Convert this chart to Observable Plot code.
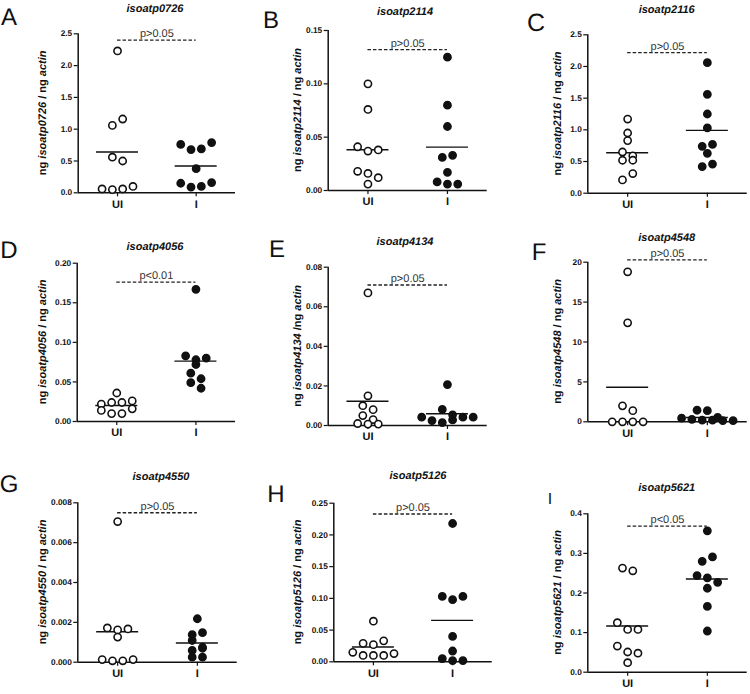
<!DOCTYPE html>
<html><head><meta charset="utf-8">
<script src="https://cdn.jsdelivr.net/npm/d3@7"></script>
<script src="https://cdn.jsdelivr.net/npm/@observablehq/plot@0.6"></script>
<style>
body{margin:0;background:#fff;}
#fig{position:relative;width:750px;height:694px;font-family:"Liberation Sans",Arial,sans-serif;overflow:hidden;}
.panel{position:absolute;}
.panel svg{overflow:visible;background:transparent;max-width:none;text-rendering:geometricPrecision;}
</style></head>
<body><div id="fig"></div>
<script>
// ---------- data ----------
const groups = ["UI", "I"];
const letters = ["A","B","C","D","E","F","G","H","I"];
const genes = ["isoatp0726","isoatp2114","isoatp2116","isoatp4056","isoatp4134","isoatp4548","isoatp4550","isoatp5126","isoatp5621"];
const labelSeps = [" / ng "," / ng "," / ng "," / ng "," /ng "," / ng "," / ng "," / ng "," / ng "];
const pLabels = ["p>0.05","p>0.05","p>0.05","p<0.01","p>0.05","p>0.05","p>0.05","p>0.05","p<0.05"];
const sigLevels = [2.4, 0.132, 2.22, 0.176, 0.071, 20.3, 0.0075, 0.233, 0.369];
const yMaxes = [2.5, 0.15, 2.5, 0.20, 0.08, 20, 0.008, 0.25, 0.4];
const yTickSteps = [0.5, 0.05, 0.5, 0.05, 0.02, 5, 0.002, 0.05, 0.1];
const yTickDecimals = [1, 2, 1, 2, 2, 0, 3, 2, 1];

const a_UI = [2.23, 1.06, 1.16, 0.56, 0.50, 0.06, 0.05, 0.06, 0.10];
const a_I  = [0.76, 0.68, 0.69, 0.79, 0.38, 0.15, 0.09, 0.10, 0.16];
const b_UI = [0.100, 0.076, 0.041, 0.037, 0.038, 0.018, 0.016, 0.012, 0.006];
const b_I  = [0.125, 0.080, 0.060, 0.031, 0.033, 0.017, 0.008, 0.006, 0.006];
const c_UI = [1.17, 0.83, 0.95, 0.65, 0.52, 0.52, 0.59, 0.21, 0.31];
const c_I  = [2.06, 1.56, 1.25, 1.03, 0.74, 0.77, 0.63, 0.42, 0.46];
const d_UI = [0.036, 0.022, 0.024, 0.024, 0.026, 0.014, 0.010, 0.010, 0.016];
const d_I  = [0.167, 0.083, 0.078, 0.080, 0.072, 0.061, 0.054, 0.049, 0.042];
const e_UI = [0.067, 0.015, 0.010, 0.008, 0.005, 0.001, 0.0007, 0.0007, 0.003];
const e_I  = [0.0207, 0.0081, 0.0042, 0.0025, 0.0054, 0.0015, 0.0028, 0.0042, 0.0042];
const f_UI = [18.8, 12.4, 2.0, 1.4, 0, 0, 0, 0];
const f_I  = [1.45, 1.4, 0.55, 0.45, 0.3, 0.2, 0.2, 0.15, 0.15];
const g_UI = [0.00706, 0.00172, 0.00162, 0.00167, 0.00126, 0.00013, 0.00007, 0.00007, 0.00013];
const g_I  = [0.00218, 0.00138, 0.00148, 0.00109, 0.00075, 0.00059, 0.00070, 0.00025, 0.00025];
const h_UI = [0.064, 0.029, 0.027, 0.033, 0.015, 0.010, 0.010, 0.010, 0.013];
const h_I  = [0.218, 0.103, 0.098, 0.103, 0.040, 0.017, 0.005, 0.002, 0.002];
const i_UI = [0.263, 0.256, 0.125, 0.108, 0.108, 0.066, 0.051, 0.048, 0.024];
const i_I  = [0.357, 0.280, 0.291, 0.244, 0.238, 0.227, 0.212, 0.166, 0.104];

const seriesUI = [a_UI, b_UI, c_UI, d_UI, e_UI, f_UI, g_UI, h_UI, i_UI];
const seriesI  = [a_I, b_I, c_I, d_I, e_I, f_I, g_I, h_I, i_I];

// ---------- layout (page coordinates) ----------
const frames = [
 {left:0,   top:0,   h:230, ax:77.7,  ty:33.3,  zy:192.3, rx:235,   lx:43.3,  ltX:9,   ltY:25,  ltS:24, tX:155,   tY:12},
 {left:250, top:0,   h:230, ax:327.7, ty:30,    zy:190,   rx:486.7, lx:297.7, ltX:271, ltY:28,  ltS:24, tX:405,   tY:15},
 {left:500, top:0,   h:230, ax:587.3, ty:34.3,  zy:192.7, rx:746.7, lx:558.3, ltX:536, ltY:31,  ltS:25, tX:666.7, tY:12.7},
 {left:0,   top:230, h:230, ax:76.7,  ty:262.7, zy:421,   rx:235,   lx:43.3,  ltX:9,   ltY:258, ltS:24, tX:155,   tY:250},
 {left:250, top:230, h:230, ax:327.7, ty:266.7, zy:425,   rx:486.7, lx:298.3, ltX:277, ltY:257, ltS:24, tX:405,   tY:245},
 {left:500, top:230, h:230, ax:587.3, ty:261.7, zy:421.3, rx:746.7, lx:558.3, ltX:539, ltY:260, ltS:24, tX:666.7, tY:240.7},
 {left:0,   top:460, h:234, ax:77.3,  ty:502.3, zy:661.7, rx:236.7, lx:43.3,  ltX:9,   ltY:492, ltS:24, tX:161,   tY:480},
 {left:250, top:460, h:234, ax:333.3, ty:502.7, zy:661.3, rx:491.7, lx:298.3, ltX:276, ltY:502, ltS:24, tX:418,   tY:479.3},
 {left:500, top:460, h:234, ax:587.3, ty:513.3, zy:671.7, rx:746.7, lx:558.3, ltX:550, ltY:503.5, ltS:16, tX:666.7, tY:490.7},
];

const FONT = '"Liberation Sans", Arial, sans-serif';
const INK = "#111";
const DOT_D = 7.3, DOT_SP = 10.3, MEAN_HALF_PX = 21;

// column scatter: points whose pixel heights overlap are spread side by side
function swarm(values, gi, pyPerUnit, pxPerUnit) {
  const order = d3.range(values.length).sort((a, b) => values[b] - values[a]);
  const rows = [];
  let row = null;
  for (const i of order) {
    if (row && (values[row[0]] - values[i]) * pyPerUnit < DOT_D) row.push(i);
    else rows.push(row = [i]);
  }
  const out = [];
  for (const r of rows) {
    r.sort((a, b) => a - b);
    r.forEach((i, k) => out.push({
      group: groups[gi], gi, value: values[i],
      x: gi + 0.5 + (k - (r.length - 1) / 2) * DOT_SP / pxPerUnit
    }));
  }
  return out;
}

const fig = document.getElementById("fig");

frames.forEach((f, p) => {
  const yMax = yMaxes[p];
  const innerW = f.rx - f.ax, innerH = f.zy - f.ty;
  const pxPerUnit = innerW / 2, pyPerUnit = innerH / yMax;
  const pts = [
    ...swarm(seriesUI[p], 0, pyPerUnit, pxPerUnit),
    ...swarm(seriesI[p], 1, pyPerUnit, pxPerUnit)
  ];
  const half = MEAN_HALF_PX / pxPerUnit;
  const means = [seriesUI[p], seriesI[p]].map((v, gi) => ({gi, c: gi + 0.5, mean: d3.mean(v)}));
  const nT = Math.round(yMax / yTickSteps[p]);
  const ticks = d3.range(nT + 1).map(k => +(k * yTickSteps[p]).toFixed(6));
  const fmt = d3.format(`.${yTickDecimals[p]}f`);
  const sig = [{y: sigLevels[p], x1: 0.5, x2: 1.5, label: pLabels[p]}];

  const svg = Plot.plot({
    width: 250, height: f.h,
    marginLeft: f.ax - f.left,
    marginRight: f.left + 250 - f.rx,
    marginTop: f.ty - f.top,
    marginBottom: f.top + f.h - f.zy,
    style: {fontFamily: FONT, color: INK, background: "transparent", overflow: "visible"},
    x: {domain: [0, 2]},
    y: {domain: [0, yMax]},
    marks: [
      Plot.axisY(ticks, {tickSize: 4, tickPadding: 2, tickFormat: fmt, fontSize: 8.3, fontWeight: "bold", label: null, strokeWidth: 1.2, stroke: INK, fill: INK}),
      Plot.axisX([0.5, 1.5], {tickSize: 4, tickPadding: 3, tickFormat: d => groups[Math.floor(d)], fontSize: 11, fontWeight: "bold", label: null, strokeWidth: 1.2, stroke: INK, fill: INK}),
      Plot.ruleX([0], {y1: 0, y2: yMax, stroke: INK, strokeWidth: 1.5}),
      Plot.ruleY([0], {x1: 0, x2: 2, stroke: INK, strokeWidth: 1.5}),
      Plot.ruleY(sig, {y: "y", x1: "x1", x2: "x2", stroke: "#222", strokeWidth: 1.3, strokeDasharray: "3.5,2"}),
      Plot.text(sig, {x: d => (d.x1 + d.x2) / 2, y: "y", text: "label", lineAnchor: "bottom", dy: -3, fontSize: 11, fill: "#333", fontWeight: "normal"}),
      Plot.ruleY(means, {y: "mean", x1: d => d.c - half, x2: d => d.c + half, stroke: INK, strokeWidth: 1.4}),
      Plot.dot(pts, {x: "x", y: "value", r: 3.6, fill: d => d.gi === 0 ? "white" : INK, stroke: INK, strokeWidth: 1.6})
    ]
  });

  const s = d3.select(svg);
  s.append("text").attr("x", f.ltX - f.left).attr("y", f.ltY - f.top)
    .attr("font-size", f.ltS).attr("font-family", FONT).attr("fill", INK).text(letters[p]);
  s.append("text").attr("x", f.tX - f.left).attr("y", f.tY - f.top)
    .attr("text-anchor", "middle").attr("font-size", 11).attr("font-weight", "bold")
    .attr("font-style", "italic").attr("font-family", FONT).attr("fill", INK).text(genes[p]);
  const t = s.append("text")
    .attr("transform", `translate(${f.lx - f.left},${(f.ty + f.zy) / 2 - f.top}) rotate(-90)`)
    .attr("text-anchor", "middle").attr("dominant-baseline", "central")
    .attr("font-size", 11).attr("font-weight", "bold").attr("font-family", FONT).attr("fill", INK);
  t.append("tspan").text("ng ");
  t.append("tspan").attr("font-style", "italic").text(genes[p]);
  t.append("tspan").text(labelSeps[p]);
  t.append("tspan").attr("font-style", "italic").text("actin");

  const div = document.createElement("div");
  div.className = "panel";
  div.style.left = f.left + "px";
  div.style.top = f.top + "px";
  div.style.width = "250px";
  div.style.height = f.h + "px";
  div.appendChild(svg);
  fig.appendChild(div);
});
</script>
</body></html>
